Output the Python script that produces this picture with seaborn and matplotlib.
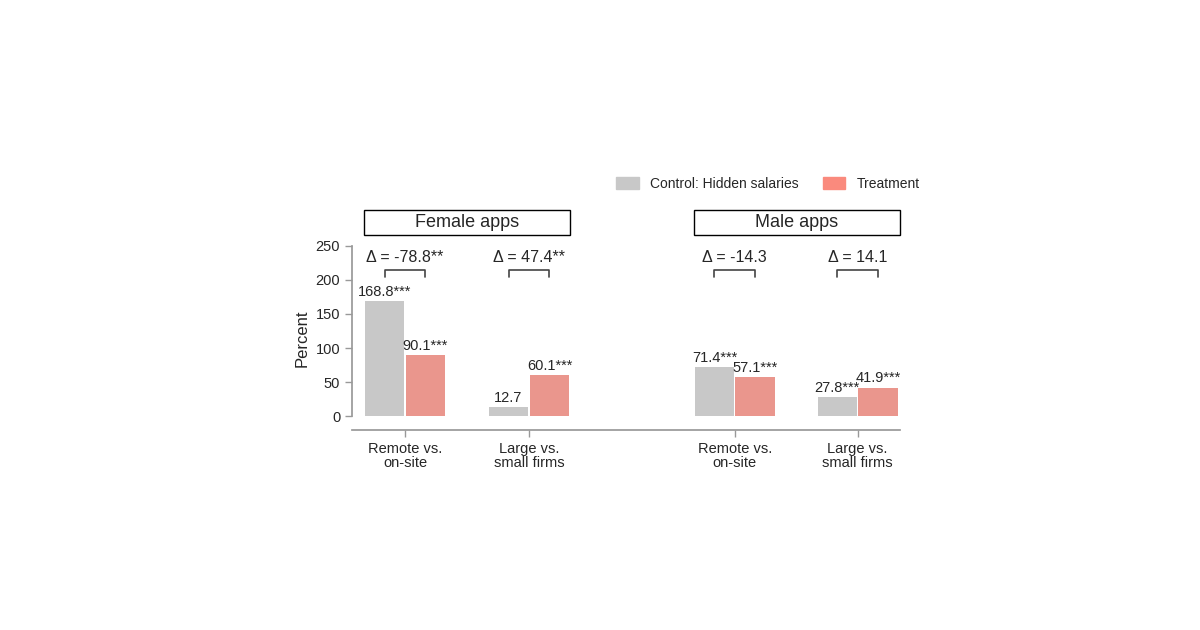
import matplotlib
matplotlib.use("Agg")
import matplotlib.pyplot as plt
import seaborn as sns
import pandas as pd
from matplotlib.patches import Rectangle, Patch

categories = ["Remote vs.\non-site", "Large vs.\nsmall firms", "Remote vs.\non-site", "Large vs.\nsmall firms"]
xpos = [0, 1, 2.66, 3.65]
control = [168.8, 12.7, 71.4, 27.8]
treatment = [90.1, 60.1, 57.1, 41.9]
control_lbl = ["168.8***", "12.7", "71.4***", "27.8***"]
treat_lbl = ["90.1***", "60.1***", "57.1***", "41.9***"]
deltas = ["Δ = -78.8**", "Δ = 47.4**", "Δ = -14.3", "Δ = 14.1"]
panels = ["Female apps", "Male apps"]
series = ["Control: Hidden salaries", "Treatment"]
colors = ["#c8c8c8", "#fa8a7d"]

sns.set_theme(style="white")
plt.rcParams['font.family'] = ['Liberation Sans', 'DejaVu Sans']

df = pd.DataFrame({
    "x": xpos * 2,
    "v": control + treatment,
    "s": [series[0]] * 4 + [series[1]] * 4,
})

fig = plt.figure(figsize=(12, 6.3), dpi=100)
ax = fig.add_axes([352/1200, 1-430/630, 548/1200, (430-246)/630])
sns.barplot(data=df, x="x", y="v", hue="s", native_scale=True, palette=colors,
            width=0.66, gap=0.03, ax=ax, legend=False, edgecolor="none")
ax.set_xlim((352-405)/124, (900-405)/124)
ax.set_ylim(-14/0.68, 250)
ax.set_yticks([0, 50, 100, 150, 200, 250])
ax.set_xticks(xpos)
ax.set_xticklabels(categories, fontsize=10.5, linespacing=1.0)
ax.tick_params(axis="both", length=5, color="#999999", width=1, left=True, bottom=True, labelsize=10.5)
ax.set_xlabel("")
ax.set_ylabel("Percent", fontsize=12)
for s in ["top", "right"]:
    ax.spines[s].set_visible(False)
for s in ["left", "bottom"]:
    ax.spines[s].set_color("#999999")
ax.spines["left"].set_bounds(0, 250)

off = 0.66 / 4
for i, x in enumerate(xpos):
    ax.text(x - off, control[i] + 3, control_lbl[i], ha="center", va="bottom", fontsize=10.5)
    ax.text(x + off, treatment[i] + 3, treat_lbl[i], ha="center", va="bottom", fontsize=10.5)
    ax.plot([x - off, x - off, x + off, x + off], [205, 214, 214, 205], color="#444444", lw=1.2, clip_on=False)
    ax.text(x, 222, deltas[i], ha="center", va="bottom", fontsize=11.5)

for (l, r), name in zip([(364, 570), (694, 900)], panels):
    fig.patches.append(Rectangle((l/1200, 1-235/630), (r-l)/1200, 25/630, transform=fig.transFigure,
                                 fill=False, edgecolor="black", lw=1))
    fig.text((l+r)/2/1200, 1-222.5/630, name, ha="center", va="center", fontsize=13)

handles = [Patch(color=c) for c in colors]
fig.legend(handles, series, loc="center", bbox_to_anchor=(768/1200, 1-184/630), ncol=2, frameon=False,
           fontsize=10, handlelength=1.6, handleheight=0.9, columnspacing=1.8)

fig.savefig("out.png", dpi=100, facecolor="white")
